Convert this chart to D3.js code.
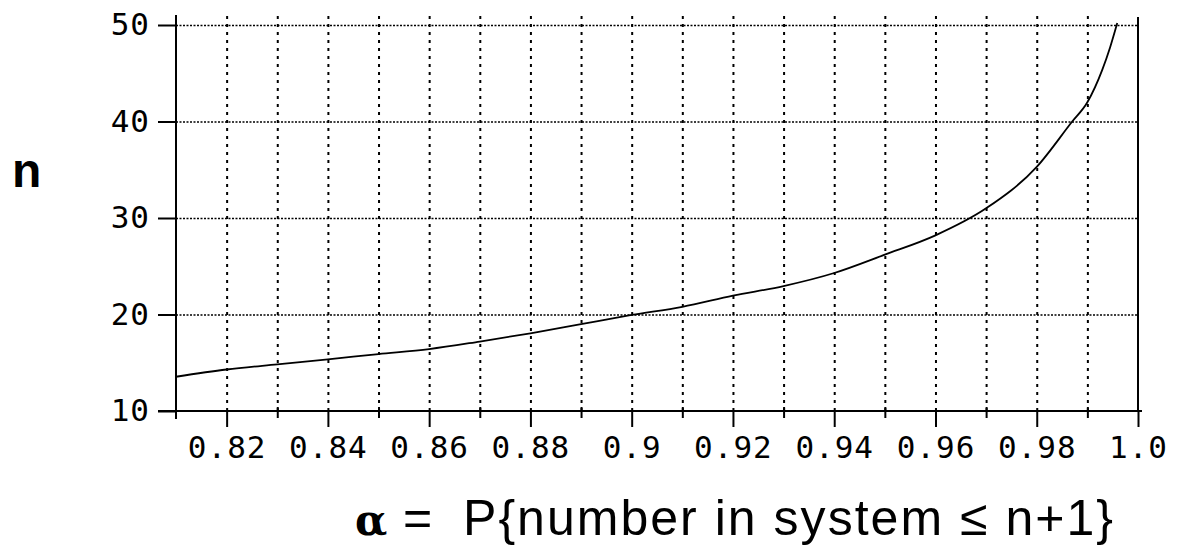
<!DOCTYPE html>
<html>
<head>
<meta charset="utf-8">
<script src="https://cdn.jsdelivr.net/npm/d3@7"></script>
<style>
  html, body { margin: 0; padding: 0; background: #fff; }
  svg { display: block; }
</style>
</head>
<body>
<svg id="chart" width="1177" height="546"></svg>
<script>
// ---- data ----
const alpha = [0.81, 0.82, 0.83, 0.84, 0.85, 0.86, 0.87, 0.88, 0.89, 0.90,
               0.91, 0.92, 0.93, 0.94, 0.95, 0.96, 0.97, 0.98, 0.987, 0.99,
               0.9929, 0.9945, 0.9959];
const nValues = [13.55, 14.3, 14.84, 15.36, 15.9, 16.42, 17.2, 18.05, 19.0, 19.95,
                 20.8, 21.95, 22.95, 24.3, 26.2, 28.2, 31.0, 35.3, 40.0, 42.0,
                 45.3, 47.7, 50.2];
const xMajorTicks = [0.82, 0.84, 0.86, 0.88, 0.90, 0.92, 0.94, 0.96, 0.98, 1.00];
const xTickLabels = ["0.82", "0.84", "0.86", "0.88", "0.9", "0.92", "0.94", "0.96", "0.98", "1.0"];
const xMinorTicks = [0.83, 0.85, 0.87, 0.89, 0.91, 0.93, 0.95, 0.97, 0.99];
const yTicks = [10, 20, 30, 40, 50];
const yTickLabels = ["10", "20", "30", "40", "50"];
const xDomain = [0.81, 1.0];
const yDomain = [10, 50];

// ---- layout ----
const L = 176, R = 1138, T = 25, B = 411;
const svg = d3.select("#chart");
const x = d3.scaleLinear().domain(xDomain).range([L, R]);
const y = d3.scaleLinear().domain(yDomain).range([B, T]);

const monoFont = "'DejaVu Sans Mono', 'Liberation Mono', monospace";

// vertical grid (every 0.01)
const gridX = xMajorTicks.concat(xMinorTicks).filter(v => v < 0.999);
const gx = svg.append("g").attr("transform", `translate(0,${B})`)
  .call(d3.axisBottom(x).tickValues(gridX).tickSize(-(B - 15)).tickFormat(""));
gx.select(".domain").remove();
gx.selectAll(".tick line").attr("stroke", "#000").attr("stroke-width", 2)
  .attr("stroke-dasharray", "3,5");

// horizontal grid
const gy = svg.append("g").attr("transform", `translate(${L},0)`)
  .call(d3.axisLeft(y).tickValues(yTicks.filter(v => v > 10)).tickSize(-(R - L)).tickFormat(""));
gy.select(".domain").remove();
gy.selectAll(".tick line").attr("stroke", "#000").attr("stroke-width", 1.5)
  .attr("stroke-dasharray", "2,1.5");

// minor x ticks
const gmin = svg.append("g").attr("transform", `translate(0,${B})`)
  .call(d3.axisBottom(x).tickValues(xMinorTicks).tickSize(7).tickFormat(""));
gmin.select(".domain").remove();
gmin.selectAll(".tick line").attr("stroke", "#000").attr("stroke-width", 2)
  .attr("y1", -4);

// major x ticks + labels
const gmaj = svg.append("g").attr("transform", `translate(0,${B})`)
  .call(d3.axisBottom(x).tickValues(xMajorTicks).tickSize(16)
        .tickFormat((d, i) => xTickLabels[i]));
gmaj.select(".domain").remove();
gmaj.selectAll(".tick line").attr("stroke", "#000").attr("stroke-width", 2);
gmaj.selectAll(".tick text")
  .attr("y", 47).attr("dy", null)
  .attr("fill", "#000")
  .style("font-family", monoFont).style("font-size", "31px")
  .style("letter-spacing", "1px");

// y ticks + labels
const gyl = svg.append("g").attr("transform", `translate(${L},0)`)
  .call(d3.axisLeft(y).tickValues(yTicks).tickSize(18)
        .tickFormat((d, i) => yTickLabels[i]));
gyl.select(".domain").remove();
gyl.selectAll(".tick line").attr("stroke", "#000").attr("stroke-width", 2);
gyl.selectAll(".tick text")
  .attr("x", -26).attr("dy", "0.32em")
  .attr("fill", "#000")
  .style("font-family", monoFont).style("font-size", "31px")
  .style("letter-spacing", "1px");

// axis lines
svg.append("line").attr("x1", L).attr("x2", L).attr("y1", 15).attr("y2", B + 8)
  .attr("stroke", "#000").attr("stroke-width", 2);
svg.append("line").attr("x1", L - 18).attr("x2", R + 4).attr("y1", B).attr("y2", B)
  .attr("stroke", "#000").attr("stroke-width", 2);
svg.append("line").attr("x1", R).attr("x2", R).attr("y1", 17).attr("y2", B)
  .attr("stroke", "#000").attr("stroke-width", 2);

// curve
const line = d3.line().x((d, i) => x(alpha[i])).y(d => y(d)).curve(d3.curveMonotoneX);
svg.append("path").datum(nValues).attr("d", line)
  .attr("fill", "none").attr("stroke", "#000").attr("stroke-width", 1.8);

// y axis label
svg.append("text").attr("x", 12).attr("y", 187).text("n")
  .attr("fill", "#000")
  .style("font-family", "'Liberation Sans', Arial, sans-serif")
  .style("font-weight", "bold").style("font-size", "48px");

// x axis title
svg.append("text").attr("x", 355).attr("y", 535).text("α")
  .attr("fill", "#000")
  .style("font-family", "'DejaVu Serif', 'Liberation Serif', serif")
  .style("font-weight", "bold").style("font-size", "42px");
svg.append("text").attr("x", 403).attr("y", 535).text("=")
  .attr("fill", "#000")
  .style("font-family", "'Liberation Sans', Arial, sans-serif")
  .style("font-size", "50px");
svg.append("text").attr("x", 463).attr("y", 535).text("P{number in system ≤ n+1}")
  .attr("fill", "#000")
  .attr("textLength", 650).attr("lengthAdjust", "spacing")
  .style("font-family", "'Liberation Sans', Arial, sans-serif")
  .style("font-size", "50px");
</script>
</body>
</html>
